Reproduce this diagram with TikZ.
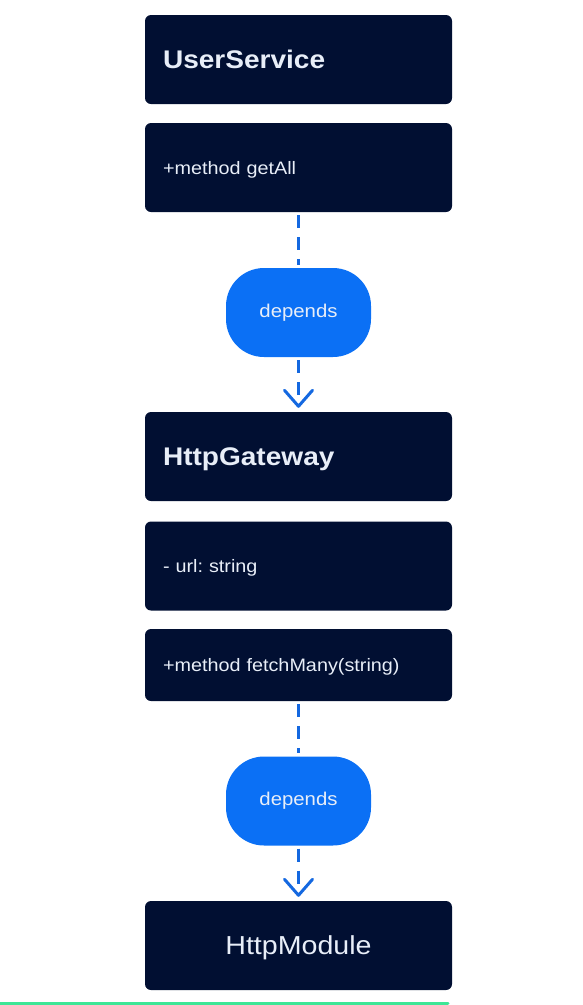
\documentclass[tikz,border=0pt]{standalone}
\usepackage{fontspec}
\setmainfont{Liberation Sans}[FakeStretch=1.1]
\usepackage{tikz}
\usetikzlibrary{arrows.meta}
\definecolor{navy}{HTML}{010F32}
\definecolor{ink}{HTML}{E8EEF8}
\definecolor{depblue}{HTML}{0B70F5}
\definecolor{dashblue}{HTML}{1468E0}
\definecolor{barg}{HTML}{3CE696}
\frenchspacing

\tikzset{
  cls/.style={rectangle, rounded corners=6pt, fill=navy, text=ink, draw=none,
    minimum width=307pt, minimum height=89pt, text width=271pt, inner xsep=18pt,
    align=left, text depth=0pt},
  head/.style={cls, font=\fontsize{25.5}{28}\selectfont\bfseries, text height=18.3pt},
  memb/.style={cls, font=\fontsize{18}{22}\selectfont, text height=13pt},
  dep/.style={rectangle, rounded corners=38pt, fill=depblue, text=ink, draw=none,
    minimum width=145pt, minimum height=89pt, font=\fontsize{18.5}{22}\selectfont},
  link/.style={draw=dashblue, line width=3pt, dash pattern=on 13pt off 9pt},
  tip/.style={-{Straight Barb[length=16pt, width=28pt, round]}}
}

\begin{document}
\begin{tikzpicture}[x=1pt, y=-1pt]
  \useasboundingbox (0,0) rectangle (582,1005);

  \node (u0) [head] at (298.5,59.5) {UserService};
  \node (u1) [memb] at (298.5,167.5) {+method getAll};
  \node (d1) [dep] at (298.5,312.5) {depends};
  \node (g0) [head] at (298.5,456.5) {HttpGateway};
  \node (g1) [memb] at (298.5,566) {- url: string};
  \node (g2) [memb, minimum height=72pt] at (298.5,665) {+method fetchMany(string)};
  \node (d2) [dep] at (298.5,801) {depends};
  \node (h0) [head, align=center, font=\fontsize{26}{30}\selectfont, text height=18.6pt] at (298.5,945.5) {HttpModule};

  \draw[link, shorten <=3pt, shorten >=3pt] (u1) -- (d1);
  \draw[link, tip, shorten <=3pt, shorten >=4pt] (d1) -- (g0);
  \draw[link, shorten <=3pt, shorten >=3pt] (g2) -- (d2);
  \draw[link, tip, shorten <=3pt, shorten >=4pt] (d2) -- (h0);

  \draw[barg, line width=3pt, line cap=round] (0,1003.5) -- (448,1003.5);
\end{tikzpicture}
\end{document}
